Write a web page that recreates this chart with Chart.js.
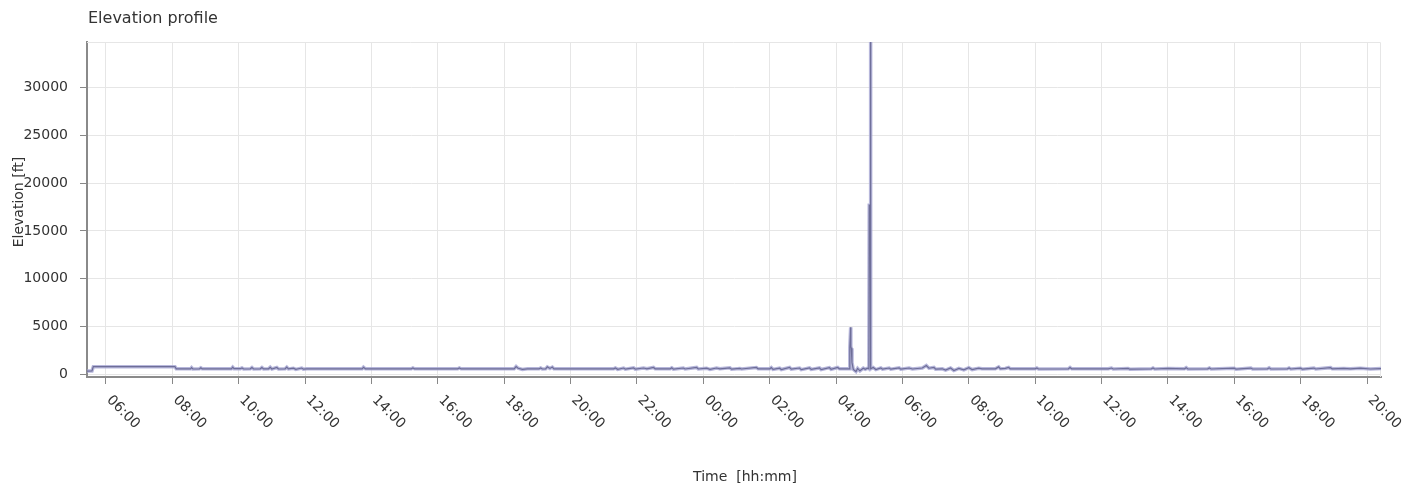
<!DOCTYPE html>
<html>
<head>
<meta charset="utf-8">
<script src="https://cdn.jsdelivr.net/npm/chart.js@4.4.0/dist/chart.umd.min.js"></script>
<style>
  html, body { margin: 0; padding: 0; background: #ffffff; }
  #wrap { width: 1421px; height: 490px; position: relative; }
</style>
</head>
<body>
<div id="wrap"><canvas id="c" width="1421" height="490"></canvas></div>
<script>
// ---- data (hours since midnight of day 1, elevation in ft) ----
const chartTitle = "Elevation profile";
const xAxisTitle = "Time  [hh:mm]";
const yAxisTitle = "Elevation [ft]";

const timeHours = [
  5.43, 5.58, 5.62, 8.08, 8.12, 8.55, 8.58, 8.62, 8.82, 8.86, 8.9,
  9.78, 9.82, 9.86, 10.05, 10.1, 10.15, 10.35, 10.4, 10.45, 10.65, 10.7, 10.75,
  10.9, 10.95, 11.0, 11.15, 11.2, 11.4, 11.45, 11.5, 11.65, 11.72, 11.9, 11.95, 12.05,
  13.72, 13.76, 13.82, 15.2, 15.25, 15.3, 16.6, 16.65, 16.7,
  18.3, 18.36, 18.42, 18.55, 18.7, 19.05, 19.1, 19.15, 19.25, 19.3, 19.38, 19.45, 19.5,
  21.3, 21.35, 21.42, 21.6, 21.65, 21.9, 21.95, 22.2, 22.3, 22.5, 22.55,
  23.0, 23.05, 23.1, 23.4, 23.45, 23.8, 23.85, 24.1, 24.2, 24.4, 24.5, 24.8, 24.85,
  25.1, 25.15, 25.6, 25.65, 26.0, 26.05, 26.1, 26.3, 26.35, 26.6, 26.65, 26.9, 26.95,
  27.2, 27.25, 27.5, 27.55, 27.8, 27.85, 28.05, 28.1, 28.4,
  28.415, 28.44, 28.445, 28.46, 28.48, 28.52, 28.6, 28.65, 28.72, 28.82, 28.88, 28.95, 28.99,
  29.0, 29.03, 29.035, 29.05, 29.12, 29.2, 29.35, 29.4, 29.6, 29.65, 29.9, 29.95,
  30.2, 30.3, 30.6, 30.72, 30.8, 30.95, 31.0, 31.2, 31.3, 31.45, 31.55, 31.7, 31.85,
  32.0, 32.1, 32.3, 32.4, 32.8, 32.9, 32.95, 33.1, 33.2, 33.25,
  34.0, 34.05, 34.1, 35.0, 35.05, 35.1, 36.2, 36.3, 36.35, 36.8, 36.85,
  37.5, 37.55, 37.6, 38.0, 38.5, 38.55, 38.6, 39.2, 39.25, 39.3,
  40.0, 40.05, 40.5, 40.55, 41.0, 41.05, 41.1, 41.6, 41.65, 41.7,
  42.0, 42.05, 42.4, 42.45, 42.9, 42.95, 43.3, 43.5, 43.8, 44.1, 44.42
];
const elevationFt = [
  320, 330, 780, 780, 560, 560, 680, 540, 560, 660, 560,
  560, 730, 570, 570, 650, 540, 560, 690, 540, 560, 700, 550,
  560, 720, 540, 700, 540, 560, 730, 550, 620, 500, 640, 520, 560,
  560, 720, 560, 560, 650, 560, 560, 640, 560,
  560, 800, 620, 500, 560, 560, 650, 540, 560, 760, 600, 740, 560,
  560, 650, 500, 640, 520, 660, 520, 640, 560, 700, 560,
  560, 660, 520, 640, 540, 700, 540, 620, 500, 640, 560, 660, 520,
  600, 540, 700, 560, 560, 680, 500, 620, 480, 700, 520, 640, 470,
  660, 500, 650, 480, 680, 510, 700, 560, 560,
  2800, 4900, 2900, 2700, 1200, 500, 280, 600, 350, 620, 500, 620, 560,
  17700, 17700, 34800, 560, 700, 480, 650, 520, 640, 520, 660, 520,
  640, 540, 640, 900, 620, 700, 520, 560, 420, 640, 380, 600, 450,
  680, 480, 620, 560, 560, 760, 560, 600, 700, 560,
  560, 640, 540, 560, 700, 560, 560, 640, 540, 600, 520,
  560, 640, 540, 600, 560, 680, 540, 560, 650, 540,
  620, 520, 640, 540, 560, 660, 540, 560, 640, 540,
  620, 520, 640, 540, 680, 560, 600, 560, 620, 540, 580
];

// tick values
const xTickHours = [6, 8, 10, 12, 14, 16, 18, 20, 22, 24, 26, 28, 30, 32, 34, 36, 38, 40, 42, 44];
const xTickLabels = ["06:00", "08:00", "10:00", "12:00", "14:00", "16:00", "18:00", "20:00", "22:00", "00:00",
                     "02:00", "04:00", "06:00", "08:00", "10:00", "12:00", "14:00", "16:00", "18:00", "20:00"];
const yTickValues = [0, 5000, 10000, 15000, 20000, 25000, 30000];

const xMinHours = 5.43;
const xMaxHours = 44.42;
const yMinFt = -300;
const yMaxFt = 34800;

// ---- chart ----
const points = timeHours.map((t, i) => ({ x: t, y: elevationFt[i] }));
const FONT = "'DejaVu Sans', sans-serif";

const decorPlugin = {
  id: 'decor',
  beforeDatasetsDraw(chart) {
    const ctx = chart.ctx, a = chart.chartArea;
    ctx.save();
    ctx.strokeStyle = '#e6e6e6';
    ctx.lineWidth = 1;
    ctx.beginPath();
    ctx.moveTo(a.left, a.top + 0.5);
    ctx.lineTo(a.right - 0.5, a.top + 0.5);
    ctx.lineTo(a.right - 0.5, a.bottom);
    ctx.stroke();
    ctx.restore();
  },
  afterDraw(chart) {
    const ctx = chart.ctx;
    const xs = chart.scales.x;
    ctx.save();
    ctx.fillStyle = '#333333';
    // chart title
    ctx.font = '16px ' + FONT;
    ctx.textAlign = 'left';
    ctx.textBaseline = 'alphabetic';
    ctx.fillText(chartTitle, 88, 23);
    // x tick labels rotated +45deg
    ctx.font = '14px ' + FONT;
    xTickHours.forEach((h, i) => {
      const px = xs.getPixelForValue(h);
      ctx.save();
      ctx.translate(px + 3, 398);
      ctx.rotate(Math.PI / 4);
      ctx.textAlign = 'left';
      ctx.textBaseline = 'middle';
      ctx.fillText(xTickLabels[i], 0, 0);
      ctx.restore();
    });
    // x axis title
    ctx.textAlign = 'center';
    ctx.textBaseline = 'alphabetic';
    ctx.fillText(xAxisTitle, 745, 481);
    // y axis title
    ctx.save();
    ctx.translate(23, 202);
    ctx.rotate(-Math.PI / 2);
    ctx.textAlign = 'center';
    ctx.textBaseline = 'alphabetic';
    ctx.fillText(yAxisTitle, 0, 0);
    ctx.restore();
    ctx.restore();
  }
};

new Chart(document.getElementById('c'), {
  type: 'line',
  data: {
    datasets: [
      {
        data: points,
        borderColor: '#6e6e98',
        borderWidth: 1.2,
        pointRadius: 0,
        tension: 0,
        fill: false
      },
      {
        data: points,
        borderColor: 'rgba(165,165,210,0.8)',
        borderWidth: 3.5,
        pointRadius: 0,
        tension: 0,
        fill: false
      }
    ]
  },
  options: {
    responsive: false,
    animation: false,
    devicePixelRatio: 1,
    layout: { padding: { top: 42, right: 40, left: 0, bottom: 0 } },
    plugins: { legend: { display: false }, tooltip: { enabled: false }, title: { display: false } },
    scales: {
      x: {
        type: 'linear',
        min: xMinHours,
        max: xMaxHours,
        afterFit(s) { s.height = 113; },
        afterBuildTicks(s) { s.ticks = xTickHours.map(v => ({ value: v })); },
        ticks: { display: false, autoSkip: false },
        grid: { color: '#e6e6e6', tickColor: '#888888', tickLength: 7, drawTicks: true },
        border: { color: '#8a8a8a', width: 2 }
      },
      y: {
        min: yMinFt,
        max: yMaxFt,
        afterFit(s) { s.width = 87; },
        afterBuildTicks(s) { s.ticks = yTickValues.map(v => ({ value: v })); },
        ticks: {
          autoSkip: false,
          color: '#333333',
          padding: 12,
          font: { family: FONT, size: 14 },
          callback: v => String(v)
        },
        grid: { color: '#e6e6e6', tickColor: '#888888', tickLength: 7 },
        border: { color: '#8a8a8a', width: 2 }
      }
    }
  },
  plugins: [decorPlugin]
});
</script>
</body>
</html>
